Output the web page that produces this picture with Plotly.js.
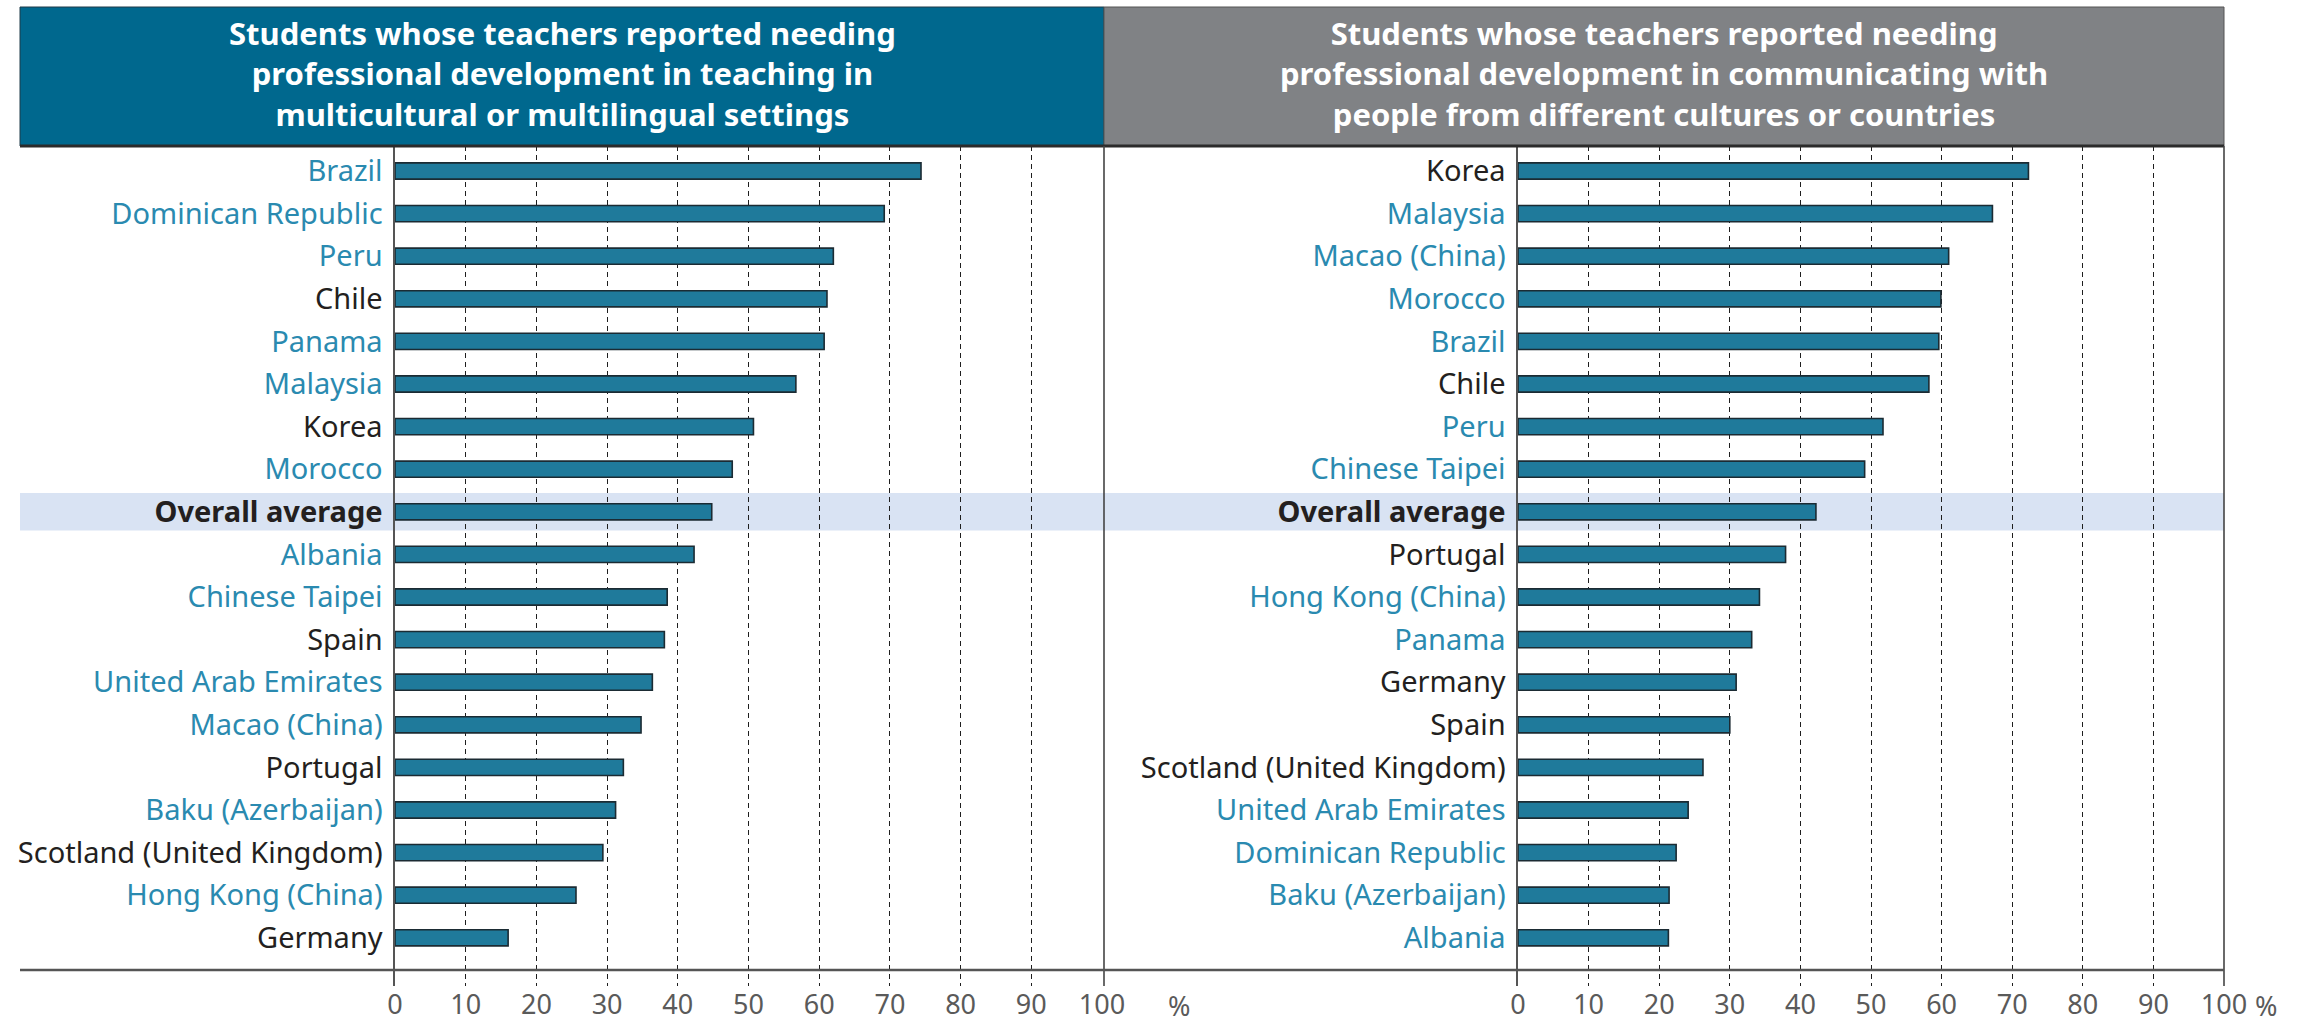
<!DOCTYPE html>
<html>
<head>
<meta charset="utf-8">
<script src="https://cdn.plot.ly/plotly-3.0.1.min.js"></script>
<style>
html,body{margin:0;padding:0;background:#fff;}
#chart{width:2302px;height:1028px;}
</style>
</head>
<body>
<div id="chart"></div>
<script>
// ---- Data ----
const leftCountries = ["Brazil","Dominican Republic","Peru","Chile","Panama","Malaysia","Korea","Morocco","Overall average","Albania","Chinese Taipei","Spain","United Arab Emirates","Macao (China)","Portugal","Baku (Azerbaijan)","Scotland (United Kingdom)","Hong Kong (China)","Germany"];
const leftValues = [74.4,69.2,62.0,61.1,60.7,56.7,50.7,47.7,44.8,42.3,38.5,38.1,36.4,34.8,32.3,31.2,29.4,25.6,16.0];

const rightCountries = ["Korea","Malaysia","Macao (China)","Morocco","Brazil","Chile","Peru","Chinese Taipei","Overall average","Portugal","Hong Kong (China)","Panama","Germany","Spain","Scotland (United Kingdom)","United Arab Emirates","Dominican Republic","Baku (Azerbaijan)","Albania"];
const rightValues = [72.3,67.2,61.0,59.9,59.6,58.2,51.7,49.1,42.2,37.9,34.2,33.1,30.9,30.0,26.2,24.1,22.4,21.4,21.3];

const oecdCountries = ["Chile","Korea","Spain","Portugal","Germany","Scotland (United Kingdom)"];
const averageLabel = "Overall average";
const xTickVals = [0,10,20,30,40,50,60,70,80,90,100];
const xTickText = ["0","10","20","30","40","50","60","70","80","90","100"];
const unitLabel = "%";

const leftTitleLines = ["Students whose teachers reported needing","professional development in teaching in","multicultural or multilingual settings"];
const rightTitleLines = ["Students whose teachers reported needing","professional development in communicating with","people from different cultures or countries"];

// ---- Styling helpers ----
const W = 2302, H = 1028;
const px = x => x / W;
const py = y => 1 - y / H;
const TEAL = "#2a8ab0", DARK = "#231f20";
const BAR = "#1f7a9b", BAR_LINE = "#1b2b33";
const FONT = "'Noto Sans', 'Open Sans', sans-serif";

function labelFor(c) {
  if (c === averageLabel) return "<b>" + c + "</b>";
  const col = oecdCountries.indexOf(c) >= 0 ? DARK : TEAL;
  return '<span style="color:' + col + '">' + c + '</span>';
}

function barTrace(cats, vals, xa, ya) {
  return {
    type: "bar", orientation: "h",
    x: vals, y: cats, xaxis: xa, yaxis: ya,
    width: 0.38,
    marker: {color: BAR, line: {color: BAR_LINE, width: 1.6}},
    hoverinfo: "skip", showlegend: false
  };
}

const yTop = 146, yBot = 986;
const rowTop = 171, rowStep = 42.6;
const yRange = [(yBot - rowTop) / rowStep, -(rowTop - yTop) / rowStep];

function xAxis(d0, d1, anchor) {
  return {
    domain: [px(d0), px(d1)], range: [0, 100], anchor: anchor,
    tickvals: xTickVals, ticktext: xTickText,
    showgrid: true, griddash: "5px,4px", gridcolor: "#1e1e1e", gridwidth: 1,
    zeroline: false, showline: false, ticks: "",
    tickfont: {family: FONT, size: 27, color: "#5a5a5a"}, fixedrange: true
  };
}
function yAxis(cats, anchor) {
  return {
    domain: [py(yBot), py(yTop)], anchor: anchor,
    type: "category", categoryorder: "array", categoryarray: cats,
    range: yRange,
    tickvals: cats, ticktext: cats.map(labelFor),
    ticks: "outside", ticklen: 5, tickcolor: "rgba(0,0,0,0)",
    showline: true, linecolor: "#555", linewidth: 1.6,
    showgrid: false, zeroline: false,
    tickfont: {family: FONT, size: 29, color: DARK}, fixedrange: true
  };
}

const avgIdxL = leftCountries.indexOf(averageLabel);

function titleAnnotation(lines, cx) {
  return {
    xref: "paper", yref: "paper", x: px(cx), y: py(74),
    xanchor: "center", yanchor: "middle", showarrow: false, align: "center",
    text: "<b>" + lines.join("<br>") + "</b>",
    font: {family: FONT, size: 31, color: "#ffffff"}
  };
}

const layout = {
  width: W, height: H,
  margin: {l: 0, r: 0, t: 0, b: 0},
  paper_bgcolor: "#ffffff", plot_bgcolor: "rgba(0,0,0,0)",
  bargap: 0,
  xaxis: xAxis(395, 1102, "y"),
  yaxis: yAxis(leftCountries, "x"),
  xaxis2: xAxis(1518, 2224, "y2"),
  yaxis2: yAxis(rightCountries, "x2"),
  shapes: [
    // highlight band for overall average
    {type: "rect", layer: "below", xref: "paper", yref: "y",
     x0: px(20), x1: px(2224), y0: avgIdxL - 0.44, y1: avgIdxL + 0.44,
     fillcolor: "#d9e3f3", line: {width: 0}},
    // header boxes
    {type: "rect", xref: "paper", yref: "paper", x0: px(20), x1: px(1104), y0: py(146), y1: py(7),
     fillcolor: "#00688e", line: {color: "#1f3a48", width: 1}},
    {type: "rect", xref: "paper", yref: "paper", x0: px(1104), x1: px(2224), y0: py(146), y1: py(7),
     fillcolor: "#808285", line: {color: "#555", width: 1}},
    {type: "line", xref: "paper", yref: "paper", x0: px(20), x1: px(2224), y0: py(146), y1: py(146),
     line: {color: "#2b2b2b", width: 3}},
    // panel separators
    {type: "line", xref: "paper", yref: "paper", x0: px(1104), x1: px(1104), y0: py(146), y1: py(yBot),
     line: {color: "#444", width: 1.6}},
    {type: "line", xref: "paper", yref: "paper", x0: px(2224), x1: px(2224), y0: py(146), y1: py(yBot),
     line: {color: "#444", width: 1.6}},
    // bottom axis line
    {type: "line", xref: "paper", yref: "paper", x0: px(20), x1: px(2224), y0: py(970), y1: py(970),
     line: {color: "#555", width: 2.5}}
  ],
  annotations: [
    titleAnnotation(leftTitleLines, 562),
    titleAnnotation(rightTitleLines, 1664),
    {xref: "paper", yref: "paper", x: px(1179), y: py(1005), xanchor: "center", yanchor: "middle",
     text: unitLabel, showarrow: false, font: {family: FONT, size: 27, color: "#5a5a5a"}},
    {xref: "paper", yref: "paper", x: px(2266), y: py(1005), xanchor: "center", yanchor: "middle",
     text: unitLabel, showarrow: false, font: {family: FONT, size: 27, color: "#5a5a5a"}}
  ]
};

const data = [
  barTrace(leftCountries, leftValues, "x", "y"),
  barTrace(rightCountries, rightValues, "x2", "y2")
];

Plotly.newPlot("chart", data, layout, {displayModeBar: false, staticPlot: true});
</script>
</body>
</html>
